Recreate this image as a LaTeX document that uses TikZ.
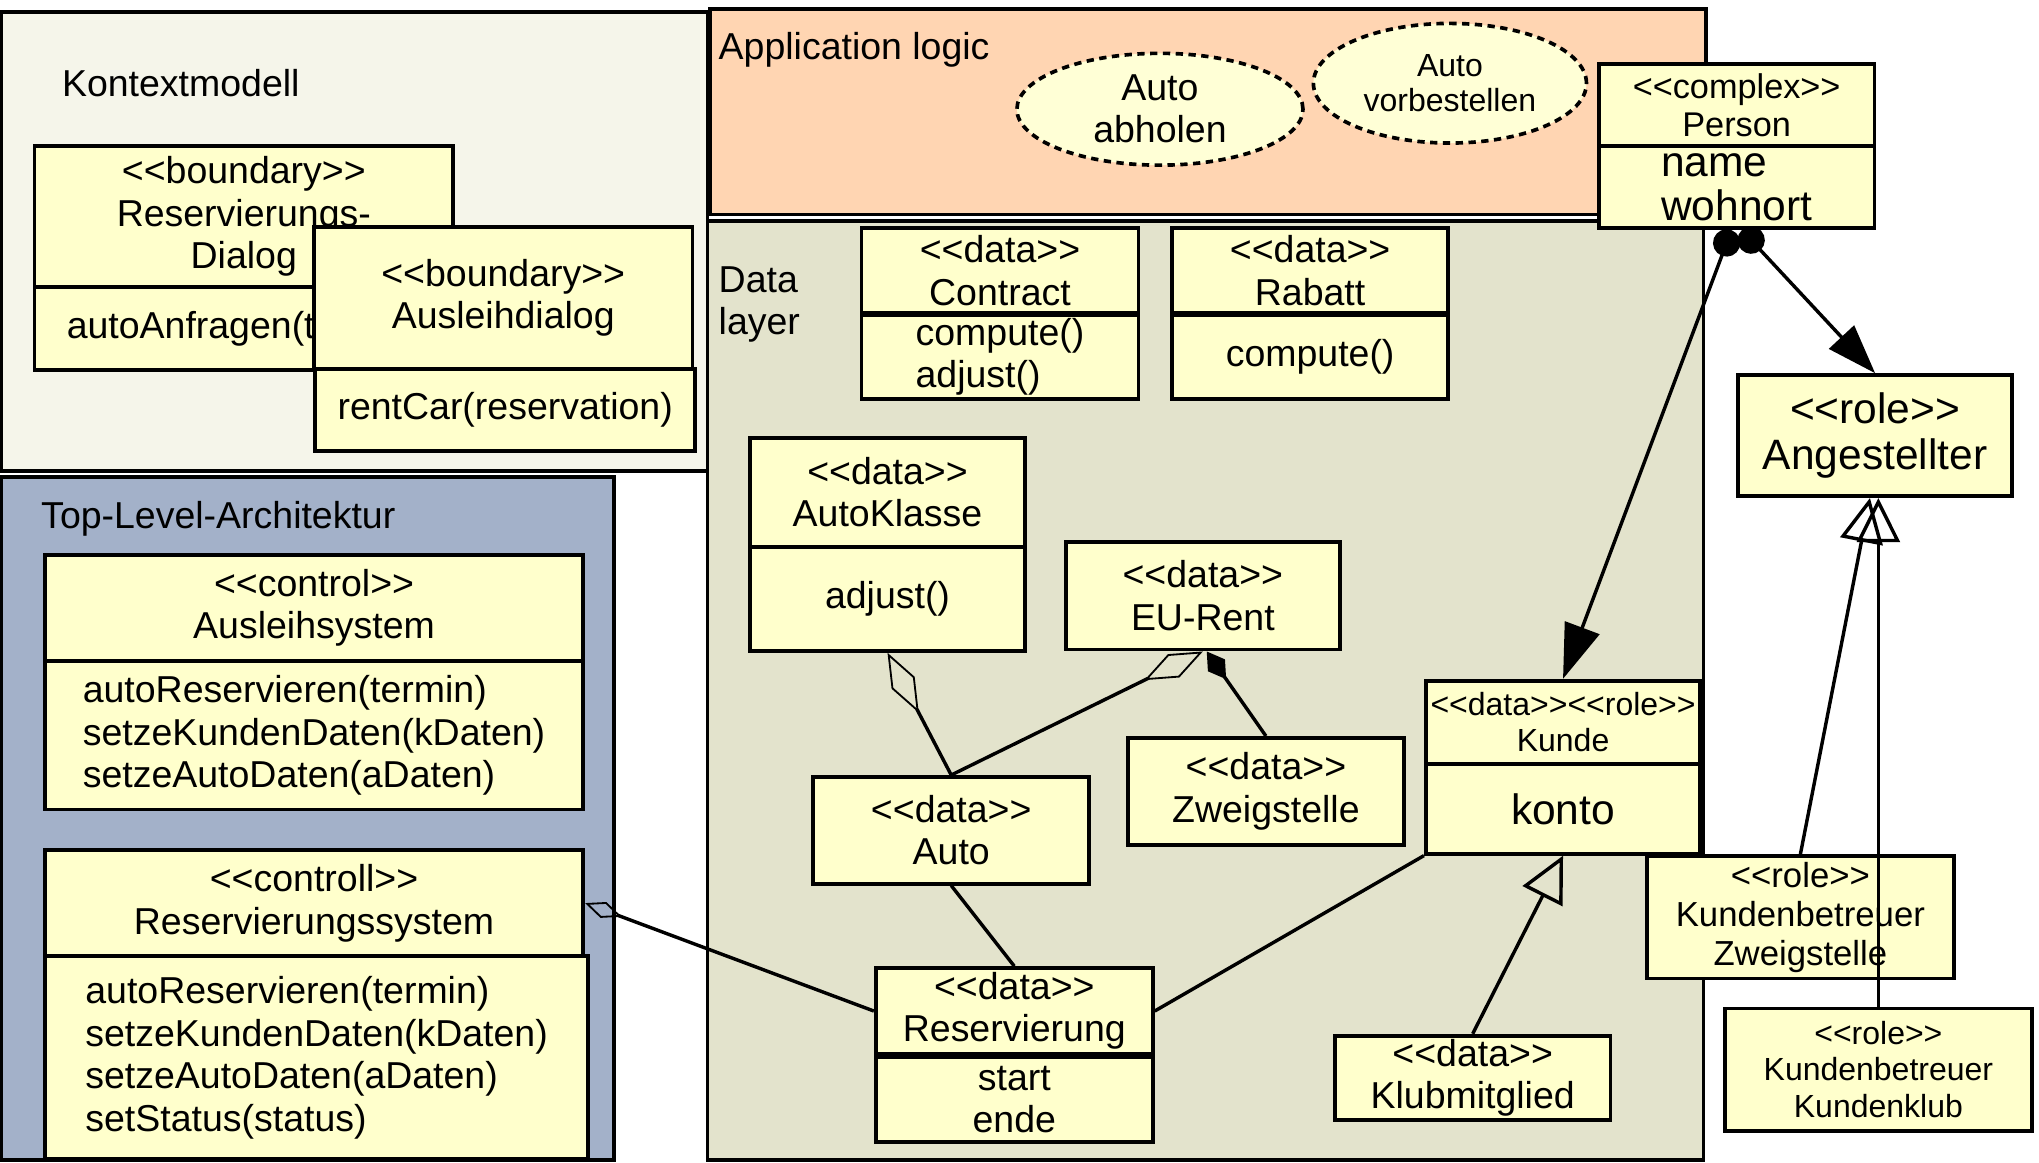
\documentclass[tikz,border=0pt]{standalone}
\usepackage{fontspec}
\setmainfont{Liberation Sans}[Ligatures=TeXOff]
\usepackage{tikz}
\usetikzlibrary{arrows.meta,shapes.geometric}
\definecolor{BoxYellow}{RGB}{255,255,204}
\definecolor{CaseYellow}{RGB}{255,255,214}
\definecolor{KontextBg}{RGB}{245,245,234}
\definecolor{LogicBg}{RGB}{255,213,178}
\definecolor{DataBg}{RGB}{227,227,204}
\definecolor{TopBg}{RGB}{163,177,201}
\tikzset{
    panel/.style={draw=black, line width=0.8pt},
    umlbox/.style={draw=black, line width=0.85pt, fill=BoxYellow, inner sep=0pt, anchor=north west,
        align=center, font=\fontsize{8.2}{9.3}\selectfont},
    smalltxt/.style={font=\fontsize{7}{7.9}\selectfont},
    midtxt/.style={font=\fontsize{7.5}{8.5}\selectfont},
    bigtxt/.style={font=\fontsize{9.3}{10}\selectfont},
    usecase/.style={ellipse, draw=black, line width=0.8pt, dash pattern=on 1.6pt off 1.2pt, fill=CaseYellow,
        inner sep=0pt, align=center},
    conn/.style={line width=0.75pt, black},
    title/.style={anchor=west, inner sep=0pt, align=left, font=\fontsize{8.2}{9.3}\selectfont}
}
\begin{document}
\begin{tikzpicture}[x=0.1mm, y=-0.1mm]
                    \useasboundingbox (0,0) rectangle (1568,894);
%                    panels
                    \draw[panel, fill=KontextBg] (1,9) rectangle (544,362);
                    \draw[panel, fill=LogicBg] (546,7) rectangle (1312,165);
                    \draw[panel, fill=DataBg] (544,170) rectangle (1310,892);
                    \draw[panel, fill=TopBg] (1,367) rectangle (472,892);
                    \node[title] (kontextLabel) at (47,64) {Kontextmodell};
                    \node[title] (logicLabel) at (552,38) {Application logic};
                    \node[title] (dataLabel) at (552,234) {Data\\layer};
                    \node[title] (topLabel) at (31,399) {Top-Level-Architektur};

%                    Kontextmodell
                    \node[umlbox, minimum width=32.2mm, minimum height=10.8mm] (resdlg) at (25,111) {<<boundary>>\\Reservierungs-\\Dialog};
                    \node[umlbox, minimum width=32.2mm, minimum height=6.4mm] (resdlgOps) at (25,219) {autoAnfragen(termin)};
                    \node[umlbox, minimum width=29.1mm, minimum height=10.9mm] (ausdlg) at (240,173) {<<boundary>>\\Ausleihdialog};
                    \node[umlbox, minimum width=29.2mm, minimum height=6.3mm] (ausdlgOps) at (241,282) {rentCar(reservation)};

%                    Top-Level-Architektur
                    \node[umlbox, minimum width=41.4mm, minimum height=8.2mm] (aussys) at (33,425) {<<control>>\\Ausleihsystem};
                    \node[umlbox, minimum width=41.4mm, minimum height=11.4mm, align=left] (aussysOps) at (33,507)
                        {autoReservieren(termin)\\setzeKundenDaten(kDaten)\\setzeAutoDaten(aDaten)};
                    \node[umlbox, minimum width=41.4mm, minimum height=8.2mm] (ressys) at (33,652) {<<controll>>\\Reservierungssystem};
                    \node[umlbox, minimum width=41.8mm, minimum height=15.6mm, align=left] (ressysOps) at (33,734)
                        {autoReservieren(termin)\\setzeKundenDaten(kDaten)\\setzeAutoDaten(aDaten)\\setStatus(status)};

%                    Application logic
                    \node[usecase, minimum width=22mm, minimum height=8.6mm, font=\fontsize{8.2}{9.2}\selectfont] (abholen) at (892,84)
                        {Auto\\abholen};
                    \node[usecase, minimum width=21mm, minimum height=9.2mm, font=\fontsize{7}{7.8}\selectfont] (vorbestellen) at (1115,64)
                        {Auto\\vorbestellen};

%                    Data layer
                    \node[umlbox, minimum width=21.3mm, minimum height=6.5mm] (contract) at (661,174) {<<data>>\\Contract};
                    \node[umlbox, minimum width=21.3mm, minimum height=6.4mm, align=left] (contractOps) at (661,241) {compute()\\adjust()};
                    \node[umlbox, minimum width=21.2mm, minimum height=6.5mm] (rabatt) at (900,174) {<<data>>\\Rabatt};
                    \node[umlbox, minimum width=21.2mm, minimum height=6.4mm] (rabattOps) at (900,241) {compute()};
                    \node[umlbox, minimum width=21.2mm, minimum height=8.4mm] (autoklasse) at (575,335) {<<data>>\\AutoKlasse};
                    \node[umlbox, minimum width=21.2mm, minimum height=8mm] (autoklasseOps) at (575,419) {adjust()};
                    \node[umlbox, minimum width=21.1mm, minimum height=8.3mm] (eurent) at (818,415) {<<data>>\\EU-Rent};
                    \node[umlbox, minimum width=21.2mm, minimum height=8.2mm] (zweig) at (866,566) {<<data>>\\Zweigstelle};
                    \node[umlbox, minimum width=21.2mm, minimum height=8.2mm] (auto) at (624,596) {<<data>>\\Auto};
                    \node[umlbox, minimum width=21.3mm, minimum height=6.6mm] (reserv) at (672,743) {<<data>>\\Reservierung};
                    \node[umlbox, minimum width=21.3mm, minimum height=6.6mm] (reservAttr) at (672,811) {start\\ende};
                    \node[umlbox, smalltxt, minimum width=21.1mm, minimum height=6.4mm] (kunde) at (1095,522) {<<data>><<role>>\\Kunde};
                    \node[umlbox, bigtxt, minimum width=21.1mm, minimum height=6.9mm] (kundeAttr) at (1095,586) {konto};
                    \node[umlbox, minimum width=21.2mm, minimum height=6.5mm] (klub) at (1025,795) {<<data>>\\Klubmitglied};

%                    Person und Rollen
                    \node[umlbox, midtxt, minimum width=21.2mm, minimum height=6.3mm] (person) at (1228,48) {<<complex>>\\Person};
                    \node[umlbox, minimum width=21.2mm, minimum height=6.3mm, align=left, font=\fontsize{9.3}{9.7}\selectfont] (personAttr) at (1228,111) {name\\wohnort};
                    \node[umlbox, minimum width=21.1mm, minimum height=9.3mm, font=\fontsize{9.3}{10.2}\selectfont] (angest) at (1335,287) {<<role>>\\Angestellter};
                    \node[umlbox, minimum width=23.6mm, minimum height=9.4mm, font=\fontsize{7.6}{8.5}\selectfont] (kz) at (1265,657) {<<role>>\\Kundenbetreuer\\Zweigstelle};
                    \node[umlbox, smalltxt, minimum width=23.6mm, minimum height=9.4mm] (kk) at (1325,774) {<<role>>\\Kundenbetreuer\\Kundenklub};

%                    Assoziationen
                    \draw[conn, {Diamond[open, length=3mm, width=1.3mm, line width=0.4pt]}-] (ressys.east) -- (reserv.west);
                    \draw[conn] (auto.south) -- (reserv.north);
                    \draw[conn] (kundeAttr.south west) -- (reserv.east);
                    \draw[conn, -{Diamond[open, length=5.2mm, width=2mm, line width=0.4pt]}] (auto.north) -- (autoklasseOps.south);
                    \draw[conn, -{Diamond[open, length=5mm, width=2mm, line width=0.4pt]}] (auto.north) -- (eurent.south);
                    \draw[conn, -{Diamond[length=2.6mm, width=1.6mm]}] (zweig.north) -- ([xshift=0.3mm]eurent.south);
                    \draw[conn, -{Triangle[open, length=3.5mm, width=3.4mm]}] (klub.north) -- (kundeAttr.south);
                    \draw[conn, {Circle[length=2.1mm]}-{Triangle[length=4.2mm, width=2.8mm]}] ([xshift=-0.4mm]personAttr.south) -- (kunde.north);
                    \draw[conn, {Circle[length=2.1mm]}-{Triangle[length=3.8mm, width=2.6mm]}] ([xshift=0.4mm]personAttr.south) -- (angest.north);
                    \draw[conn, -{Triangle[open, length=3.4mm, width=3.3mm]}] (kz.north) -- ([xshift=-0.4mm]angest.south);
                    \draw[conn, -{Triangle[open, length=3.4mm, width=3.3mm]}] (kk.north) -- (kk.north |- angest.south);
                \end{tikzpicture}
\end{document}
